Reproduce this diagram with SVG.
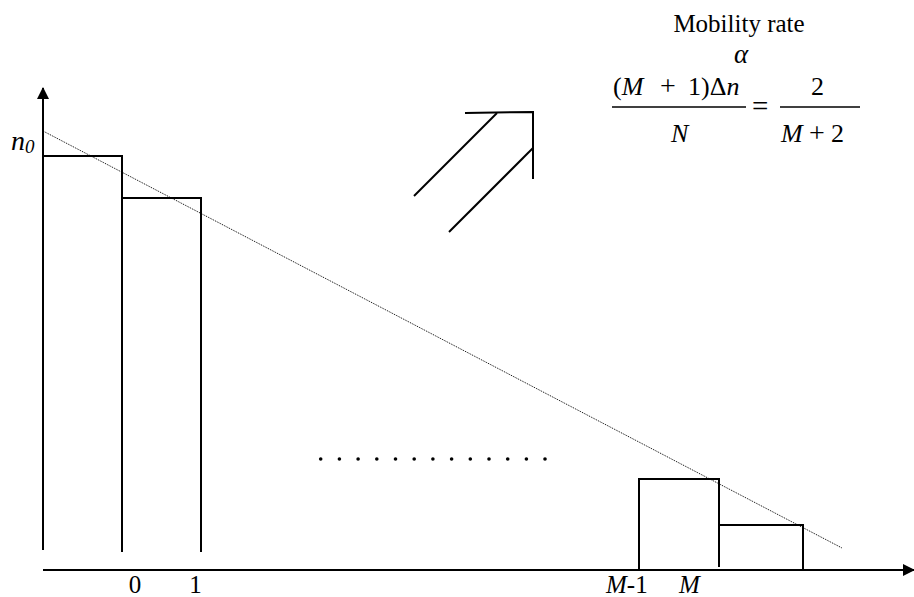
<svg xmlns="http://www.w3.org/2000/svg" width="914" height="597" viewBox="0 0 914 597">
<style>
.ln{stroke:#000;stroke-width:2;fill:none}
.i{font-style:italic}
</style>
<defs>
<marker id="ah" markerWidth="12" markerHeight="12" refX="11" refY="6" orient="auto" markerUnits="userSpaceOnUse" viewBox="0 0 12 12">
<path d="M0,0 L12,6 L0,12 Z" fill="#000"/>
</marker>
</defs>
<rect width="914" height="597" fill="#fff"/>
<g id="axes">
<line class="ln" x1="43" y1="550" x2="43" y2="88" marker-end="url(#ah)"/>
<line class="ln" x1="43" y1="570" x2="914" y2="570" marker-end="url(#ah)"/>
</g>
<g id="bars">
<polyline class="ln" points="43,156 122,156 122,552"/>
<polyline class="ln" points="122,198 201,198 201,552"/>
<polyline class="ln" points="639,570 639,479 719,479 719,567"/>
<polyline class="ln" points="719,525 803,525 803,570"/>
</g>
<g id="connectors">
<line x1="43" y1="131" x2="842" y2="548" stroke="#000" stroke-width="1" stroke-dasharray="1,1"/>
<g class="ln">
<line x1="414" y1="196" x2="497" y2="113"/>
<polyline points="465,113 533,112 533,179"/>
<line x1="449" y1="232" x2="533" y2="148"/>
</g>
</g>
<g id="dots" fill="#000">
<circle cx="320.7" cy="459" r="1.8"/><circle cx="339.4" cy="459" r="1.8"/><circle cx="358.1" cy="459" r="1.8"/><circle cx="376.8" cy="459" r="1.8"/><circle cx="395.5" cy="459" r="1.8"/><circle cx="414.2" cy="459" r="1.8"/><circle cx="432.9" cy="459" r="1.8"/><circle cx="451.6" cy="459" r="1.8"/><circle cx="470.3" cy="459" r="1.8"/><circle cx="489" cy="459" r="1.8"/><circle cx="507.7" cy="459" r="1.8"/><circle cx="526.4" cy="459" r="1.8"/><circle cx="545" cy="459" r="1.8"/>
</g>
<g id="labels" font-family="Liberation Serif, Times New Roman, serif" fill="#000">
<text class="i" x="11" y="150" font-size="28">n<tspan font-size="19" dy="3">0</tspan></text>
<text x="135" y="593" font-size="25" text-anchor="middle">0</text>
<text x="195.5" y="593" font-size="25" text-anchor="middle">1</text>
<text x="606" y="593" font-size="25"><tspan class="i">M</tspan>-1</text>
<text class="i" x="679" y="593" font-size="25">M</text>
</g>
<g id="equation" font-family="Liberation Serif, Times New Roman, serif" fill="#000">
<text x="739" y="32" font-size="25" text-anchor="middle">Mobility rate</text>
<text class="i" x="741" y="63" font-size="27" text-anchor="middle">α</text>
<text x="613" y="95" font-size="26">(<tspan class="i">M</tspan></text>
<text x="660" y="95" font-size="28">+</text>
<text x="688" y="95" font-size="26">1)Δ<tspan class="i">n</tspan></text>
<line x1="612" y1="107" x2="746" y2="107" stroke="#000" stroke-width="1.3"/>
<text class="i" x="671" y="142" font-size="26">N</text>
<text x="752" y="116" font-size="29">=</text>
<text x="811" y="95" font-size="26">2</text>
<line x1="780" y1="107" x2="860" y2="107" stroke="#000" stroke-width="1.3"/>
<text class="i" x="781" y="142" font-size="26">M</text>
<text x="809" y="142" font-size="28">+</text>
<text x="831" y="142" font-size="26">2</text>
</g>
</svg>
